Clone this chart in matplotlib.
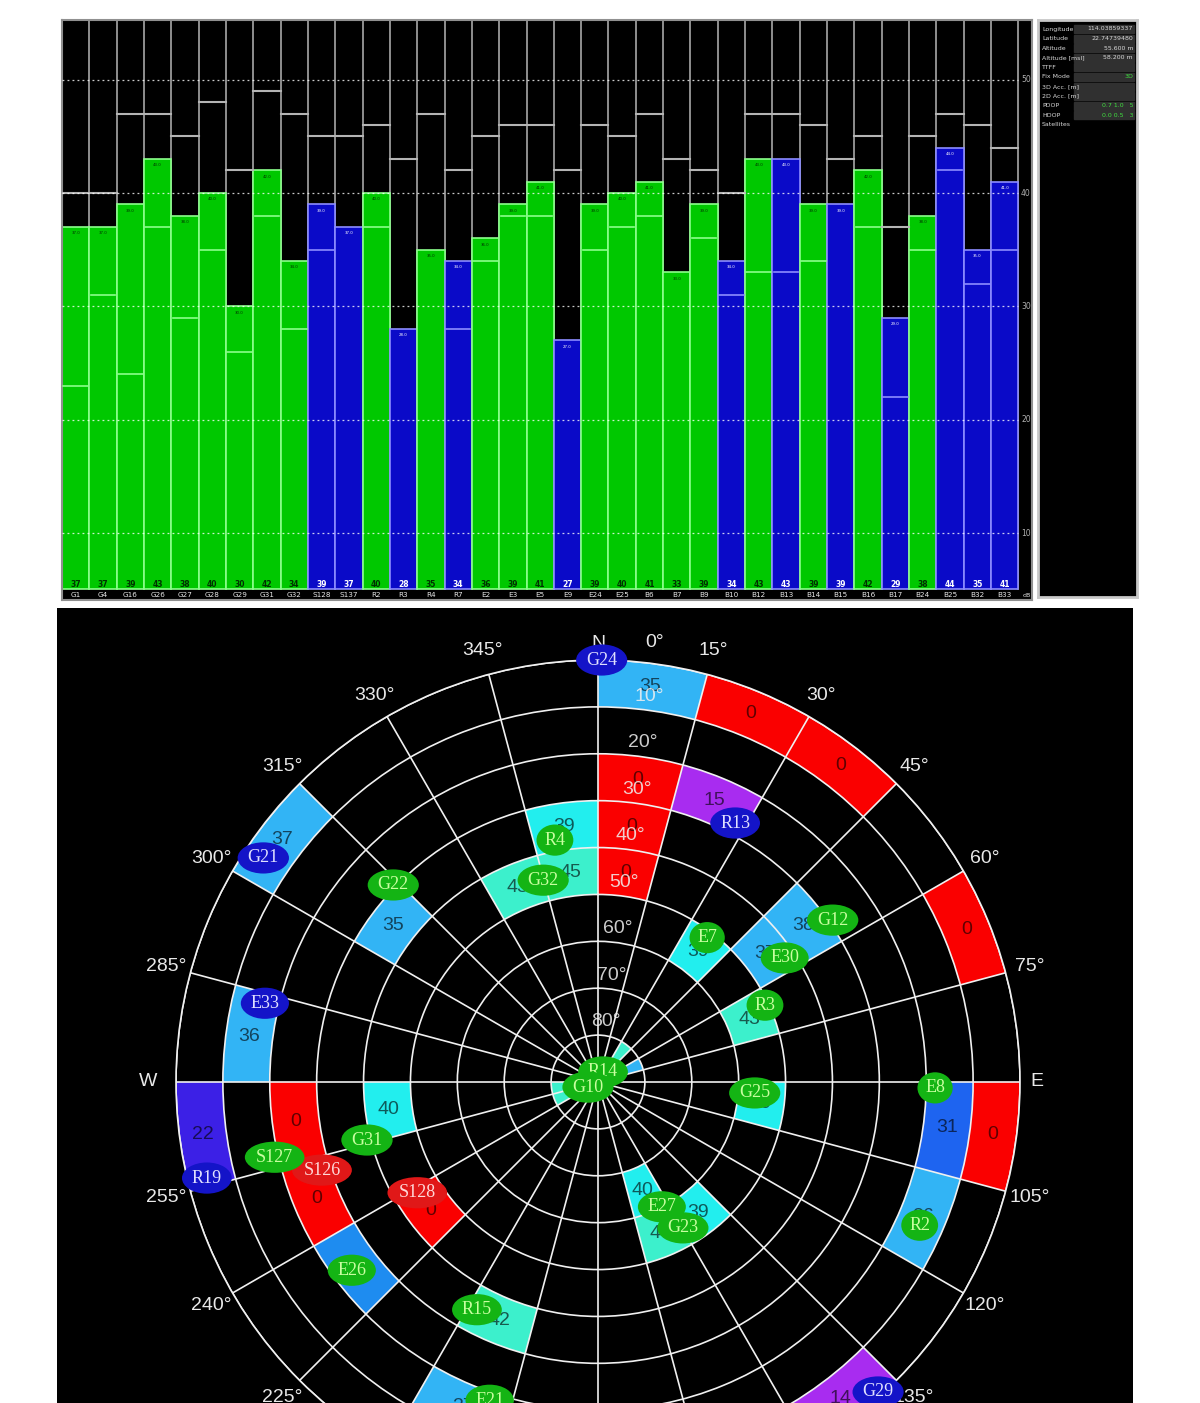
import matplotlib
matplotlib.use("Agg")
import matplotlib.pyplot as plt
import numpy as np

# ---- signal level bar chart data ----
sat_names = ["G1", "G4", "G16", "G26", "G27", "G28", "G29", "G31", "G32", "S128", "S137",
             "R2", "R3", "R4", "R7", "E2", "E3", "E5", "E9", "E24", "E25",
             "B6", "B7", "B9", "B10", "B12", "B13", "B14", "B15", "B16", "B17",
             "B24", "B25", "B32", "B33"]
snr = [37, 37, 39, 43, 38, 40, 30, 42, 34, 39, 37,
       40, 28, 35, 34, 36, 39, 41, 27, 39, 40,
       41, 33, 39, 34, 43, 43, 39, 39, 42, 29,
       38, 44, 35, 41]
# True = used in fix (green), False = tracked only (blue)
used = [True, True, True, True, True, True, True, True, True, False, False,
        True, False, True, False, True, True, True, False, True, True,
        True, True, True, False, True, False, True, False, True, False,
        True, False, False, False]
snr_peak = [40, 40, 47, 47, 45, 48, 42, 49, 47, 45, 45,
            46, 43, 47, 42, 45, 46, 46, 42, 46, 45,
            47, 43, 42, 40, 47, 47, 46, 43, 45, 37,
            45, 47, 46, 44]
snr_low = [23, 31, 24, 37, 29, 35, 26, 38, 28, 35, 0,
           37, 0, 0, 28, 34, 38, 38, 0, 35, 37,
           38, 0, 36, 31, 33, 33, 34, 0, 37, 22,
           35, 42, 32, 35]
y_ticks = [10, 20, 30, 40, 50]

info_labels = ["Longitude", "Latitude", "Altitude", "Altitude [msl]", "TTFF", "Fix Mode",
               "3D Acc. [m]", "2D Acc. [m]", "PDOP", "HDOP", "Satellites"]
info_values = ["114.03859337", "22.74739480", "55.600 m", "58.200 m", "", "3D",
               "", "", "0.7 1.0   5", "0.0 0.5   3", ""]

# ---- sky plot data ----
cell_az = [0, 15, 30, 60, 90, 0, 0, 0, 15, 45, 45, 30, 60, 90, 90, 105, 135,
           150, 135, 150, 195, 195, 225, 225, 255, 240, 255, 255, 270, 300, 300,
           345, 330, 345, 30, 60, 240, 255]
cell_el = [0, 0, 0, 0, 0, 20, 30, 40, 20, 30, 40, 50, 50, 50, 10, 10, 0,
           60, 50, 50, 30, 10, 20, 40, 20, 20, 40, 0, 10, 0, 30,
           30, 40, 40, 80, 80, 80, 80]
cell_snr = [35, 0, 0, 0, 0, 0, 0, 0, 15, 38, 37, 39, 43, 40, 31, 36, 14,
            40, 39, 44, 42, 37, 34, 0, 0, 0, 40, 22, 36, 37, 35,
            39, 43, 45, 44, 36, 44, 44]

sky_names = ["G24", "G21", "G22", "R4", "G32", "R13", "G12", "E7", "E30", "R3", "R14",
             "G10", "G25", "E8", "R2", "G29", "E27", "G23", "E21", "R15", "E26",
             "S128", "S126", "S127", "G31", "R19", "E33"]
sky_az = [0.5, 303.8, 313.9, 349.9, 344.8, 27.9, 55.4, 37.1, 56.4, 65.3, 26.6,
          243, 94, 91, 114, 137.9, 152.9, 149.8, 198.8, 208, 232.6,
          238.5, 252.3, 256.9, 255.9, 256.2, 283.3]
sky_el = [0, 4.1, 29.4, 37.6, 45.4, 27.5, 29.2, 51.4, 42.2, 50.8, 87.6,
          87.6, 56.5, 18.1, 14.9, 0.9, 60.1, 54, 18.3, 35, 23.9,
          44.8, 28.2, 19.2, 39.2, 4.1, 17]
# 'u' used (green), 't' tracked (blue), 's' sbas no signal (red)
sky_state = ["t", "t", "u", "u", "u", "t", "u", "u", "u", "u", "u",
             "u", "u", "u", "u", "t", "u", "u", "u", "u", "u",
             "s", "s", "u", "u", "t", "t"]

az_labels = {0: "N", 15: "15°", 30: "30°", 45: "45°", 60: "60°", 75: "75°", 90: "E",
             105: "105°", 120: "120°", 135: "135°", 225: "225°", 240: "240°", 255: "255°",
             270: "W", 285: "285°", 300: "300°", 315: "315°", 330: "330°", 345: "345°"}
el_labels = [10, 20, 30, 40, 50, 60, 70, 80]


def snr_color(v):
    if v == 0:
        return "#fa0000"
    if v < 20:
        return "#a82cf0"
    if v < 30:
        return "#3c20e6"
    if v < 33:
        return "#1e64f0"
    if v < 35:
        return "#1e8cf0"
    if v < 39:
        return "#32b4f5"
    if v < 42:
        return "#22eeee"
    return "#3cf0cc"


def dark(c, f=0.38):
    rgb = np.array(matplotlib.colors.to_rgb(c))
    return tuple(rgb * f)


fig = plt.figure(figsize=(12, 14.03), dpi=100)
fig.patch.set_facecolor("white")
H = 1403.0
W = 1200.0

# ---------------- top bar chart ----------------
ax = fig.add_axes([62 / W, (H - 600) / H, (1032 - 62) / W, 580 / H])
ax.set_facecolor("black")
n = len(snr)
x = np.arange(n)
ax.set_xlim(-0.5, 35.0)
ax.set_ylim(4.09, 55.27)
bottom = 5.05

for i in range(n):
    ax.plot([i + 0.5, i + 0.5], [bottom, 55.27], color="#a8a8a8", lw=1.2, zorder=1)
ax.plot([-0.5, -0.5], [bottom, 55.27], color="#a8a8a8", lw=1.2, zorder=1)

fill = ["#00c800" if u else "#0a0ac8" for u in used]
edge = ["#8cff8c" if u else "#8c8cff" for u in used]
heights = [v - bottom for v in snr]
ax.bar(x, heights, width=1.0, bottom=bottom, color=fill, edgecolor=edge, linewidth=1.2, zorder=2)

for i in range(n):
    ax.plot([i - 0.5, i + 0.5], [snr_peak[i], snr_peak[i]], color="#b4b4b4", lw=1.5, zorder=3)
    if snr_low[i] > 0:
        ax.plot([i - 0.45, i + 0.45], [snr_low[i], snr_low[i]], color=edge[i], lw=1.2, zorder=3)

for t in y_ticks:
    ax.plot([-0.5, 34.5], [t, t], color="white", lw=0.9, ls=(0, (1.5, 2.5)), alpha=0.8, zorder=4)
    ax.text(34.78, t, str(t), color="#b0b0b0", fontsize=5.5, ha="center", va="center", zorder=5)

for i in range(n):
    tc = "#003000" if used[i] else "white"
    ax.text(i, 5.45, str(snr[i]), color=tc, fontsize=5.5, ha="center", va="center",
            fontweight="bold", zorder=5)
    ax.text(i, snr[i] - 0.55, str(snr[i]) + ".0", color=tc, fontsize=2.8, ha="center",
            va="center", zorder=5)
    ax.text(i, 4.5, sat_names[i], color="#e8e8e8", fontsize=5.2, ha="center", va="center", zorder=5)
ax.text(34.82, 4.5, "dB", color="#e8e8e8", fontsize=4.5, ha="center", va="center")

ax.set_xticks([])
ax.set_yticks([])
for s in ax.spines.values():
    s.set_color("#909090")
    s.set_linewidth(1.5)

# ---------------- info panel ----------------
axi = fig.add_axes([1038 / W, (H - 597) / H, 99 / W, 577 / H])
axi.set_facecolor("black")
axi.set_xlim(0, 99)
axi.set_ylim(577, 0)
axi.set_xticks([])
axi.set_yticks([])
for s in axi.spines.values():
    s.set_color("#c8c8c8")
    s.set_linewidth(2)
for k, lab in enumerate(info_labels):
    yy = 9 + k * 9.6
    axi.text(4, yy, lab, color="#d8d8d8", fontsize=4.5, va="center", ha="left")
    if k < 10:
        axi.add_patch(matplotlib.patches.Rectangle((36, yy - 4), 60, 8, color="#303030"))
    vc = "#40e040" if info_labels[k] in ("Fix Mode", "PDOP", "HDOP") else "#d8d8d8"
    axi.text(95, yy, info_values[k], color=vc, fontsize=4.5, va="center", ha="right")

# ---------------- sky plot ----------------
axb = fig.add_axes([57 / W, 0, 1076 / W, (H - 608) / H])
axb.set_facecolor("black")
axb.set_xticks([])
axb.set_yticks([])
for s in axb.spines.values():
    s.set_visible(False)

R = 422.0
cx, cy = 598.0, 1082.0
axp = fig.add_axes([(cx - R) / W, (H - cy - R) / H, 2 * R / W, 2 * R / H], projection="polar")
axp.set_facecolor("black")
axp.set_theta_zero_location("N")
axp.set_theta_direction(-1)
axp.set_ylim(0, 90)
axp.set_thetagrids(np.arange(0, 360, 15), labels=[])
axp.set_rgrids(np.arange(10, 91, 10), labels=[])
axp.grid(True, color="#f0f0f0", lw=1.2)
axp.set_axisbelow(False)
axp.spines["polar"].set_color("#f0f0f0")
axp.spines["polar"].set_linewidth(1.2)
axp.tick_params(length=0)

cols = [snr_color(v) for v in cell_snr]
axp.bar(np.deg2rad(np.array(cell_az) + 7.5), 10, width=np.deg2rad(15),
        bottom=80 - np.array(cell_el), color=cols, edgecolor="none", zorder=1)

for a, e, v, c in zip(cell_az, cell_el, cell_snr, cols):
    if e >= 80:
        continue
    axp.text(np.deg2rad(a + 7.5), 85 - e, str(v), color=dark(c), fontsize=14,
             ha="center", va="center", family="Liberation Sans", zorder=3)

for e in el_labels:
    axp.text(np.deg2rad(7.5), 90 - e + 3, f"{e}°", color="#f0f0f0", fontsize=14,
             ha="center", va="center", family="Liberation Sans", alpha=0.85, zorder=3)

for a, lab in az_labels.items():
    rr = 96.0 if lab == "W" else (93.5 if lab in ("E", "N") else 95.3)
    axp.text(np.deg2rad(a), rr, lab, color="#e8e8e8", fontsize=14, ha="center", va="center",
             family="Liberation Sans", clip_on=False, zorder=3)
axp.text(np.deg2rad(7.3), 94.5, "0°", color="#e8e8e8", fontsize=14, ha="center", va="center",
         family="Liberation Sans", clip_on=False, zorder=3)

ell_fc = {"u": "#14b414", "t": "#1414c8", "s": "#e01818"}
ell_tc = {"u": "#c8ffa0", "t": "#e0e0ff", "s": "#ffd8d8"}
for nm, a, e, st in zip(sky_names, sky_az, sky_el, sky_state):
    axp.text(np.deg2rad(a), 90 - e, nm, color=ell_tc[st], fontsize=13, ha="center", va="center",
             family="Liberation Serif", clip_on=False, zorder=4,
             bbox=dict(boxstyle="ellipse,pad=0.14", fc=ell_fc[st], ec="none"))

fig.savefig("out.png", dpi=100, facecolor=fig.get_facecolor())
